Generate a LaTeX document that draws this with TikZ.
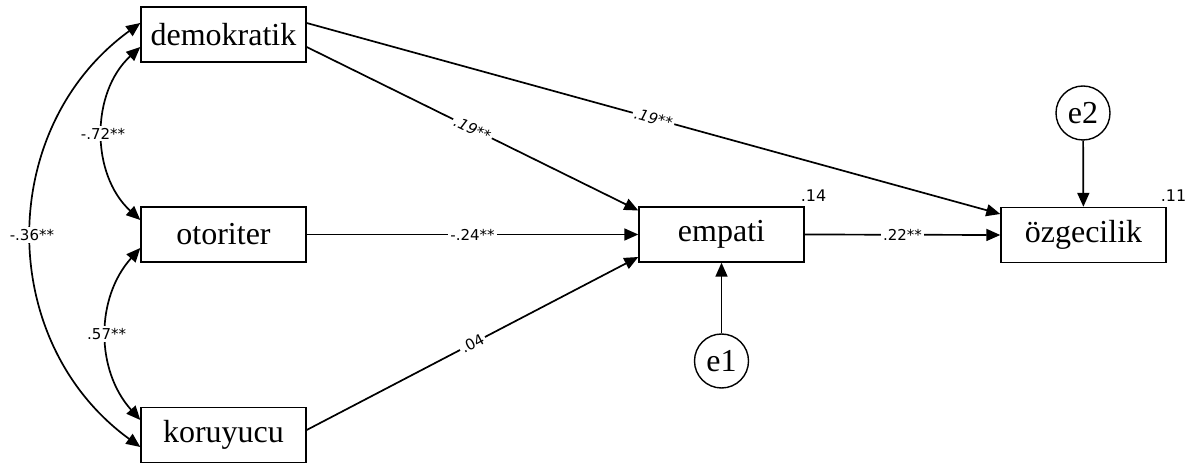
\documentclass[tikz,border=0pt]{standalone}
\usepackage{fontspec}
\setmainfont{Liberation Serif}
\newfontfamily\lblfont{DejaVu Sans}
\usetikzlibrary{arrows.meta}
\begin{document}
\begin{tikzpicture}[x=1pt,y=1pt,
 box/.style={draw, line width=1.4pt, minimum width=165pt, minimum height=55pt, inner sep=0pt, font=\fontsize{32}{32}\selectfont},
 err/.style={draw, circle, line width=1.4pt, minimum size=54pt, inner sep=0pt, font=\fontsize{32}{32}\selectfont},
 pth/.style={line width=1.7pt, -{Triangle[length=14pt,width=12pt]}},
 cov/.style={line width=1.7pt, {Triangle[length=14pt,width=12pt]}-{Triangle[length=14pt,width=12pt]}},
 lbl/.style={fill=white, inner sep=2pt, font=\lblfont\fontsize{15}{15}\selectfont},
 rsq/.style={anchor=south west, inner sep=0pt, font=\lblfont\fontsize{16}{16}\selectfont}]
\useasboundingbox (0,0) rectangle (1192,466);
\node[box] (dem) at (223.5,431.5) {demokratik};
\node[box] (oto) at (223.5,231.5) {otoriter};
\node[box] (kor) at (223.5,31) {koruyucu};
\node[box] (emp) at (721.5,231.5) {empati};
\node[box] (ozg) at (1083.5,231) {özgecilik};
\node[err] (e1) at (721.5,105) {e1};
\node[err] (e2) at (1083,353) {e2};
\node[rsq] (r1) at ([xshift=-4pt,yshift=5pt]emp.north east) {.14};
\node[rsq] (r2) at ([xshift=-6pt,yshift=5pt]ozg.north east) {.11};
% paths
\draw[pth] ([yshift=-12.5pt]dem.east) -- node[lbl, sloped] {\itshape .19**} ([yshift=24pt]emp.west);
\draw[pth] ([yshift=11.5pt]dem.east) -- node[lbl, sloped] {\itshape .19**} ([yshift=21pt]ozg.west);
\draw[pth] (oto.east) -- node[lbl] {-.24**} (emp.west);
\draw[pth] ([yshift=5pt]kor.east) -- node[lbl, sloped] {.04} ([yshift=-22.5pt]emp.west);
\draw[pth] (emp.east) -- node[lbl] {.22**} (ozg.west);
\draw[pth] (e1) -- (emp);
\draw[pth] (e2) -- (ozg);
% covariances
\draw[cov] ([yshift=11.5pt]dem.west) to[out=216, in=144, looseness=1.08] node[lbl] {-.36**} ([yshift=-12pt]kor.west);
\draw[cov] ([yshift=-12.5pt]dem.west) to[out=222.5, in=137.5] node[lbl] {-.72**} ([yshift=14.5pt]oto.west);
\draw[cov] ([yshift=-13.5pt]oto.west) to[out=228, in=132] node[lbl] {.57**} ([yshift=15pt]kor.west);
\end{tikzpicture}
\end{document}
